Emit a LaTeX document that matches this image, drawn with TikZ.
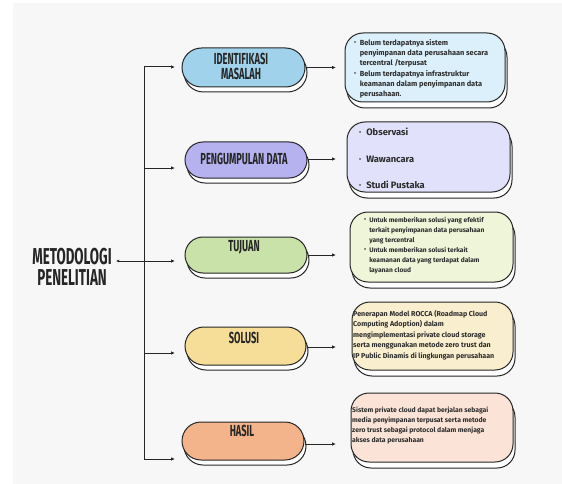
\documentclass[tikz,border=0pt]{standalone}
\usepackage{fontspec}
\setmainfont{Fira Sans}
\newfontfamily\headfont[FakeStretch=0.58]{Fira Sans}
\usetikzlibrary{shapes.misc,arrows.meta}
\definecolor{bg}{HTML}{F7F7F7}
\definecolor{ink}{HTML}{262626}
\definecolor{txt}{HTML}{2C2C2C}
\definecolor{c1}{HTML}{A0D2EB}\definecolor{b1}{HTML}{DCF0FB}
\definecolor{c2}{HTML}{B5B2EF}\definecolor{b2}{HTML}{E1E1FB}
\definecolor{c3}{HTML}{C9E2A9}\definecolor{b3}{HTML}{EFF5D9}
\definecolor{c4}{HTML}{F6DD98}\definecolor{b4}{HTML}{F9EFCF}
\definecolor{c5}{HTML}{F3B48B}\definecolor{b5}{HTML}{FBE4D7}
\newcommand{\bul}{\raisebox{0.6pt}{\fontsize{6}{6}\selectfont\textbullet}}
\begin{document}
\begin{tikzpicture}[x=1pt,y=-1pt,
  pill/.style={rounded rectangle, draw=ink, line width=1pt, inner sep=0pt,
    preaction={draw=ink, fill=white, line width=1pt, transform canvas={shift={(2pt,-5pt)}}}},
  infobox/.style={rectangle, rounded corners=18pt, draw=ink, line width=1pt, inner sep=0pt,
    preaction={draw=ink, fill=white, line width=1pt, transform canvas={shift={(2pt,-6pt)}}}},
  plabel/.style={font=\headfont\bfseries\fontsize{16}{15}\selectfont, text=ink, align=center, inner sep=0pt},
  bt/.style={inner sep=0pt, anchor=base west, text=txt},
  conn/.style={draw=ink, line width=1pt, -{Latex[length=4pt,width=3.5pt]}}
]
\useasboundingbox (0,0) rectangle (562,484);
\fill[white] (0,0) rectangle (562,484);
\fill[bg] (13,3) rectangle (562,484);

% pills
\node[pill, fill=c1, minimum width=123pt, minimum height=39pt] (p1) at (243.5,67.5) {};
\node[pill, fill=c2, minimum width=122pt, minimum height=36pt] (p2) at (246,160) {};
\node[pill, fill=c3, minimum width=122pt, minimum height=36pt] (p3) at (246,255) {};
\node[pill, fill=c4, minimum width=121pt, minimum height=38pt] (p4) at (245.5,346) {};
\node[pill, fill=c5, minimum width=122pt, minimum height=38pt] (p5) at (243,441) {};

\node[plabel] (l1) at (241,66.5) {IDENTIFIKASI\\MASALAH};
\node[plabel] (l2) at (244,158.5) {PENGUMPULAN DATA};
\node[plabel] (l3) at (244,247.5) {TUJUAN};
\node[plabel] (l4) at (244,338) {SOLUSI};
\node[plabel] (l5) at (242,431) {HASIL};

% boxes
\node[infobox, fill=b1, minimum width=160pt, minimum height=69pt] (b1) at (425,67.5) {};
\node[infobox, fill=b2, minimum width=163pt, minimum height=70pt] (b2) at (428.5,157) {};
\node[infobox, fill=b3, minimum width=163pt, minimum height=70pt] (b3) at (431.5,247) {};
\node[infobox, fill=b4, minimum width=161pt, minimum height=68pt] (b4) at (432.5,336) {};
\node[infobox, fill=b5, minimum width=162pt, minimum height=69pt] (b5) at (432,427.5) {};

% box texts
\node[bt, font=\bfseries\fontsize{7.4}{10.2}\selectfont] (t1) at (354,45.5)
 {\begin{tabular}[t]{@{}l@{\hspace{3.5pt}}l@{}}
 \bul & Belum terdapatnya sistem\\
  & penyimpanan data perusahaan secara\\
  & tercentral /terpusat\\
 \bul & Belum terdapatnya infrastruktur\\
  & keamanan dalam penyimpanan data\\
  & perusahaan.
 \end{tabular}};
\node[bt, font=\bfseries\fontsize{9.3}{26.5}\selectfont] (t2) at (359,135.5)
 {\begin{tabular}[t]{@{}l@{\hspace{5pt}}l@{}}
 \bul & Observasi\\
 \bul & Wawancara\\
 \bul & Studi Pustaka
 \end{tabular}};
\node[bt, font=\bfseries\fontsize{6.6}{9.9}\selectfont] (t3) at (364,222.5)
 {\begin{tabular}[t]{@{}l@{\hspace{3pt}}l@{}}
 \bul & Untuk memberikan solusi yang efektif\\
  & terkait penyimpanan data perusahaan\\
  & yang tercentral\\
 \bul & Untuk memberikan solusi terkait\\
  & keamanan data yang terdapat dalam\\
  & layanan cloud
 \end{tabular}};
\node[bt, font=\bfseries\fontsize{7.1}{10.4}\selectfont] (t4) at (353,316.5)
 {\begin{tabular}[t]{@{}l@{}}
 Penerapan Model ROCCA (Roadmap Cloud\\
 Computing Adoption) dalam\\
 mengimplementasi private cloud storage\\
 serta menggunakan metode zero trust dan\\
 IP Public Dinamis di lingkungan perusahaan
 \end{tabular}};
\node[bt, font=\bfseries\fontsize{6.8}{10}\selectfont] (t5) at (352,412.5)
 {\begin{tabular}[t]{@{}l@{}}
 Sistem private cloud dapat berjalan sebagai\\
 media penyimpanan terpusat serta metode\\
 zero trust sebagai protocol dalam menjaga\\
 akses data perusahaan
 \end{tabular}};

% main title
\node[font=\headfont\bfseries\fontsize{23}{21}\selectfont, text=ink, align=center, inner sep=0pt] (met) at (72,267) {METODOLOGI\\PENELITIAN};

% connectors
\coordinate (s1) at (144,67);
\coordinate (s2) at (144,168);
\coordinate (s4) at (144,353);
\coordinate (s5) at (144,459);
\coordinate (a1) at (175,67);
\coordinate (a2) at (175,168);
\coordinate (a3) at (175,261);
\coordinate (a4) at (175,353);
\coordinate (a5) at (175,459);
\coordinate (m0) at (116,261);
\draw[ink, line width=1pt] (s1) -- (s5);
\draw[conn] (s1) -- (a1);
\draw[conn] (s2) -- (a2);
\draw[conn] (s4) -- (a4);
\draw[conn] (s5) -- (a5);
\draw[draw=ink, line width=1pt, {Latex[length=3pt,width=3pt]}-{Latex[length=4pt,width=3.5pt]}] (m0) -- (a3);

\coordinate (r1) at (336,67.5);
\coordinate (r2) at (336,159);
\coordinate (r3) at (336,255);
\coordinate (r4) at (336,347);
\coordinate (r5) at (336,444);
\draw[conn] (p1.east) -- (r1);
\draw[conn] (p2.east |- r2) -- (r2);
\draw[conn] (p3.east) -- (r3);
\draw[conn] (p4.east |- r4) -- (r4);
\draw[conn] (p5.east |- r5) -- (r5);
\end{tikzpicture}
\end{document}
